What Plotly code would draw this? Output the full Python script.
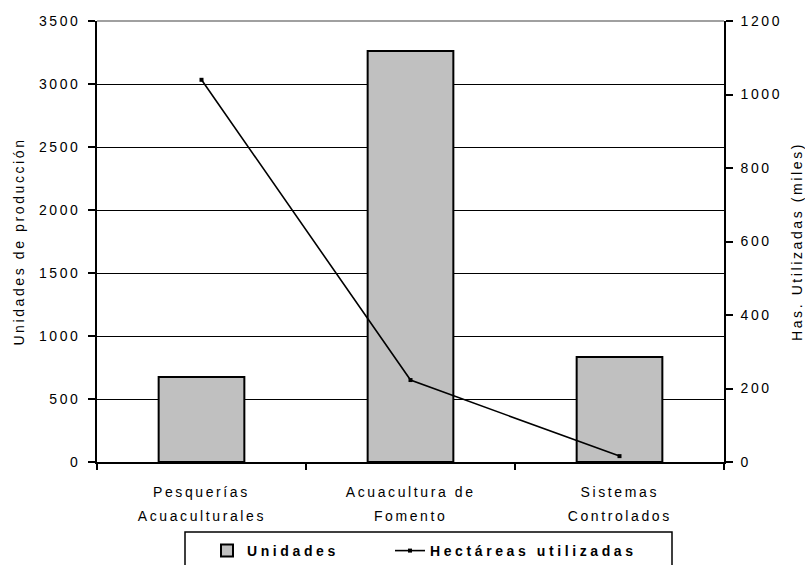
import plotly.graph_objects as go

cat_line1 = ["Pesquerías", "Acuacultura de", "Sistemas"]
cat_line2 = ["Acuaculturales", "Fomento", "Controlados"]
categories = [a + " " + b for a, b in zip(cat_line1, cat_line2)]
unidades = [675, 3262, 833]
hectareas = [1040, 223, 16]

left_ticks = [0, 500, 1000, 1500, 2000, 2500, 3000, 3500]
right_ticks = [0, 200, 400, 600, 800, 1000, 1200]

FONT = "Liberation Sans, Arial, sans-serif"

# plot-area geometry in pixels (used only for placing paper-referenced items)
L, R, T, B = 97, 81, 21, 103
W, H = 805, 565
PW, PH = W - L - R, H - T - B


def px_x(x):
    return (x - L) / PW


def px_y(y):
    return (H - B - y) / PH


fig = go.Figure()
fig.add_trace(go.Bar(
    x=categories, y=unidades, name="<b>Unidades</b>",
    marker=dict(color="#C0C0C0", line=dict(color="black", width=2)),
    width=0.41, yaxis="y", legend="legend",
))
fig.add_trace(go.Scatter(
    x=categories, y=hectareas, name="<b>Hectáreas utilizadas</b>",
    mode="lines+markers", line=dict(color="black", width=1.6),
    marker=dict(symbol="square", size=4, color="black"),
    yaxis="y2", legend="legend2",
))

annotations = []
for c, l1, l2 in zip(categories, cat_line1, cat_line2):
    annotations.append(dict(x=c, xref="x", y=px_y(492), yref="paper", text=l1,
                            showarrow=False, xanchor="center", yanchor="middle",
                            font=dict(size=14, family=FONT, color="black")))
    annotations.append(dict(x=c, xref="x", y=px_y(516), yref="paper", text=l2,
                            showarrow=False, xanchor="center", yanchor="middle",
                            font=dict(size=14, family=FONT, color="black")))

legend_common = dict(
    orientation="h", bgcolor="rgba(0,0,0,0)", borderwidth=0,
    font=dict(size=14, family=FONT, color="black"),
    yanchor="middle", y=px_y(551), entrywidthmode="pixels",
)

fig.update_layout(
    width=W, height=H,
    margin=dict(l=L, r=R, t=T, b=B, autoexpand=False),
    plot_bgcolor="white", paper_bgcolor="white",
    font=dict(family=FONT, size=14, color="black"),
    xaxis=dict(
        type="category", range=[-0.5, 2.5], automargin=False,
        showline=True, linecolor="black", linewidth=1.5,
        ticks="outside", tickson="boundaries", ticklen=6, tickcolor="black", tickwidth=1.5,
        showgrid=False, showticklabels=False,
    ),
    yaxis=dict(
        range=[0, 3500], tickvals=left_ticks, ticktext=[str(v) for v in left_ticks],
        automargin=False,
        showline=True, linecolor="black", linewidth=1.5,
        ticks="outside", ticklen=7, tickcolor="black", tickwidth=1.5,
        showgrid=True, gridcolor="black", gridwidth=1.4,
        zeroline=False, ticklabelstandoff=5,
        title=dict(text="Unidades de producción", font=dict(size=14, family=FONT), standoff=21),
        tickfont=dict(size=14, family=FONT),
    ),
    yaxis2=dict(
        range=[0, 1200], tickvals=right_ticks, ticktext=[str(v) for v in right_ticks],
        overlaying="y", side="right", automargin=False,
        showline=True, linecolor="black", linewidth=1.5,
        ticks="outside", ticklen=7, tickcolor="black", tickwidth=1.5,
        showgrid=False, zeroline=False, ticklabelstandoff=5,
        title=dict(text="Has. Utilizadas (miles)", font=dict(size=14, family=FONT), standoff=22),
        tickfont=dict(size=14, family=FONT),
    ),
    legend=dict(legend_common, x=px_x(207), xanchor="left", entrywidth=150),
    legend2=dict(legend_common, x=px_x(390), xanchor="left", entrywidth=230),
    showlegend=True,
    annotations=annotations,
    shapes=[
        dict(type="line", xref="paper", yref="paper", x0=0, x1=1, y0=1, y1=1,
             line=dict(color="#808080", width=1.5), layer="above"),
        dict(type="rect", xref="paper", yref="paper",
             x0=px_x(185), x1=px_x(672), y0=px_y(532), y1=px_y(575),
             line=dict(color="black", width=1.5), fillcolor="rgba(0,0,0,0)"),
    ],
)

css = (
    "body{margin:0;}"
    " .ytick text, .y2tick text, .annotation-text, .ytitle, .y2title {letter-spacing: 2.6px;}"
    " .legend text, .legend2 text, .legendtext {letter-spacing: 3.6px !important;}"
)
post = (
    "var s=document.createElement('style');"
    "s.textContent='" + css + "';"
    "document.head.appendChild(s);"
    "document.body.style.margin='0';"
    "document.querySelectorAll('.legendtext').forEach(function(t){t.style.letterSpacing='3.6px';});"
)

fig.write_html("out.html", post_script=post, config={"displayModeBar": False})
